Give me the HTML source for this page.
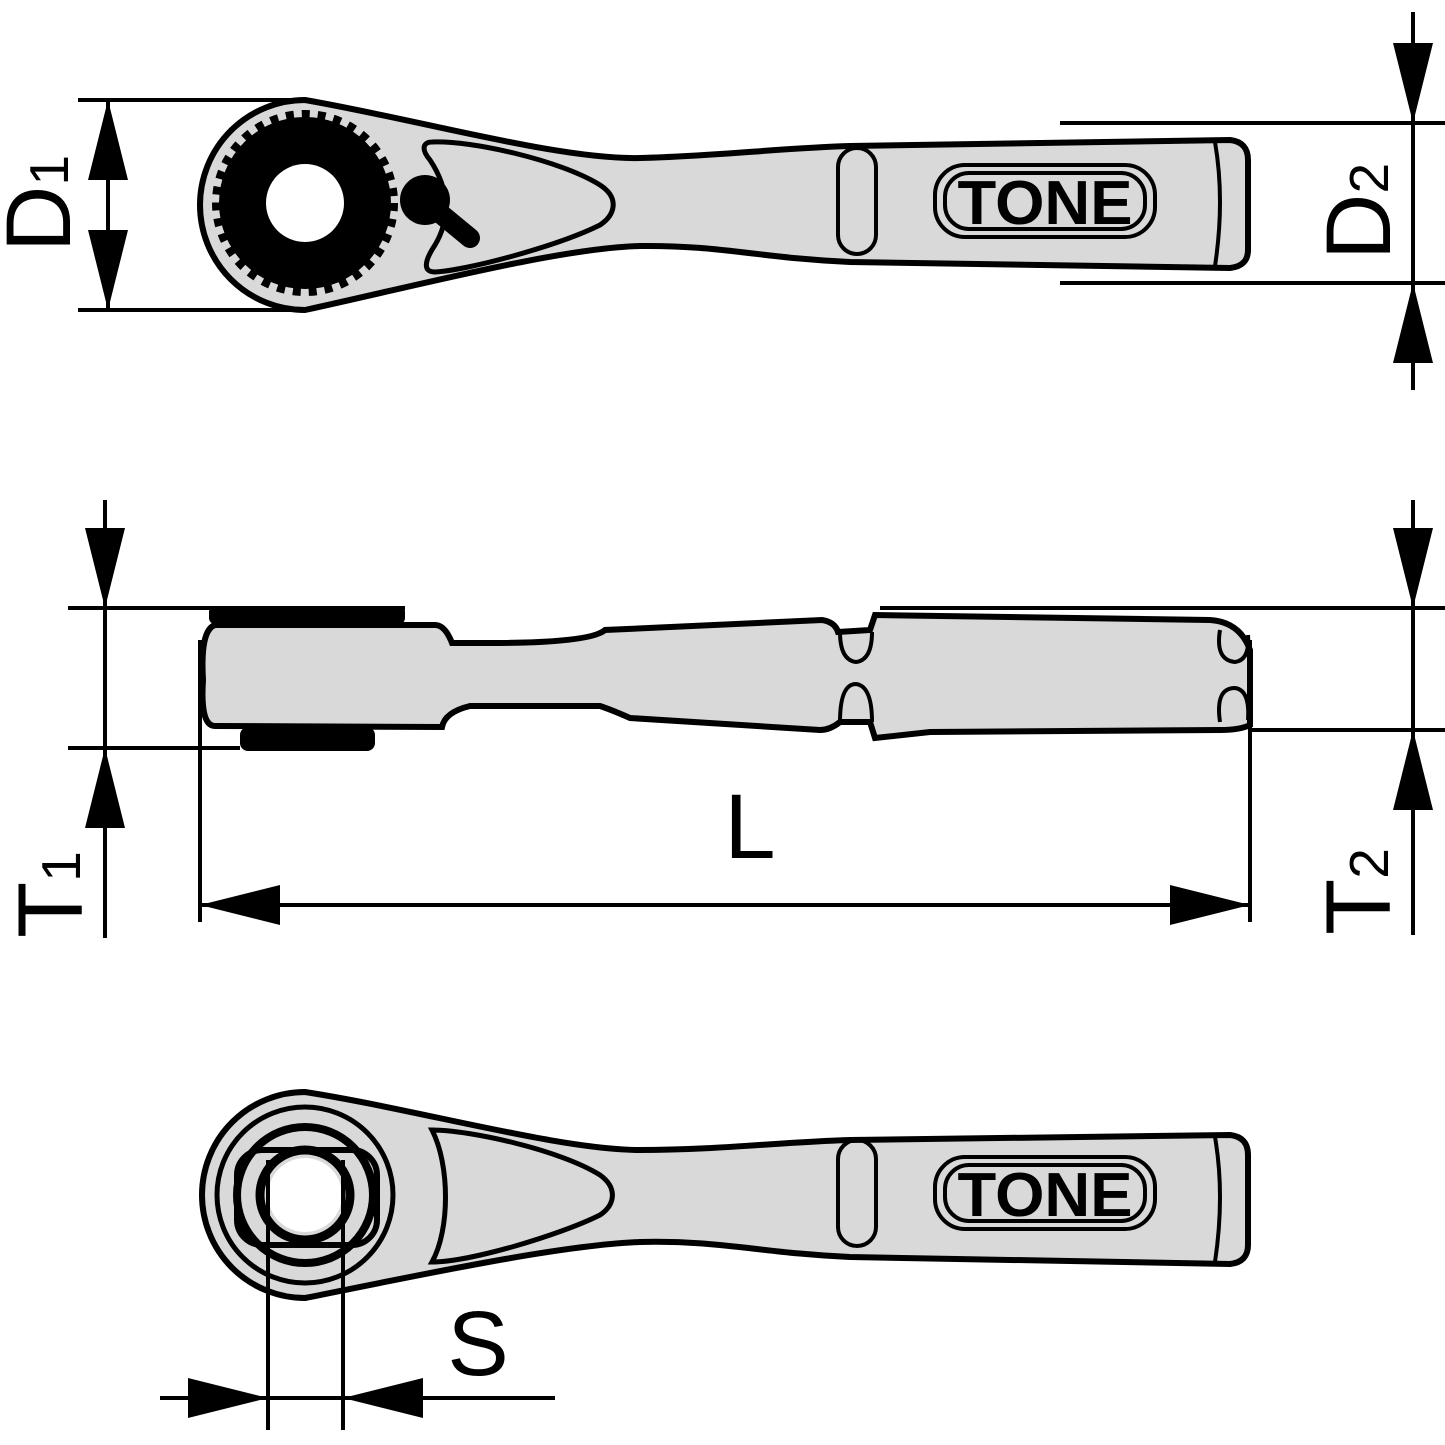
<!DOCTYPE html>
<html><head><meta charset="utf-8"><style>html,body{margin:0;padding:0;background:#fff}svg{display:block}</style></head>
<body>
<svg width="1445" height="1445" viewBox="0 0 1445 1445" xmlns="http://www.w3.org/2000/svg" font-family="Liberation Sans, sans-serif">
<defs>
<marker id="a" viewBox="0 0 20 10" refX="20" refY="5" markerWidth="80" markerHeight="40" markerUnits="userSpaceOnUse" orient="auto"><path d="M0,0L20,5L0,10Z" fill="#000"/></marker>
</defs>
<g stroke="#000" fill="none" stroke-width="4">
<!-- ===== TOP VIEW ===== -->
<path d="M305,100 C420,120 560,160 640,158 C720,156 780,148 850,146 L1230,140 Q1248,142 1248,160 L1248,250 Q1248,266 1230,268 L850,262 C760,258 720,245 640,246 C560,248 420,285 305,310 A105,105 0 0 1 305,100 Z" fill="#d9d9d9" stroke-width="6"/>
<circle cx="305" cy="203" r="86" fill="#000" stroke="none"/>
<circle cx="305" cy="203" r="89" stroke="#000" stroke-width="8" stroke-dasharray="8 8"/>
<circle cx="305" cy="203" r="39" fill="#fff" stroke="none"/>
<path d="M432,142 C470,140 560,160 600,185 C620,198 615,215 600,225 C560,245 470,270 435,272 C422,272 425,260 435,245 C450,220 450,190 430,160 C420,148 424,142 432,142 Z" fill="#d9d9d9" stroke-width="5"/>
<circle cx="425" cy="200" r="25" fill="#000" stroke="none"/>
<line x1="430" y1="205" x2="470" y2="238" stroke-width="20" stroke-linecap="round"/>
<rect x="838" y="148" width="38" height="106" rx="19" stroke-width="4"/>
<rect x="935" y="165" width="220" height="72" rx="30" stroke-width="4"/>
<rect x="945" y="173" width="200" height="56" rx="24" stroke-width="4"/>
<path d="M1215,142 Q1225,200 1215,266" stroke-width="4"/>
<!-- D1 -->
<line x1="78" y1="100" x2="305" y2="100"/>
<line x1="78" y1="310" x2="305" y2="310"/>
<line x1="108" y1="200" x2="108" y2="100" marker-end="url(#a)"/>
<line x1="108" y1="200" x2="108" y2="310" marker-end="url(#a)"/>
<!-- D2 -->
<line x1="1060" y1="123" x2="1445" y2="123"/>
<line x1="1060" y1="283" x2="1445" y2="283"/>
<line x1="1413" y1="12" x2="1413" y2="123" marker-end="url(#a)"/>
<line x1="1413" y1="390" x2="1413" y2="283" marker-end="url(#a)"/>
<line x1="1413" y1="123" x2="1413" y2="283"/>
<!-- ===== SIDE VIEW ===== -->
<rect x="209" y="606" width="196" height="18" rx="6" fill="#000" stroke="none"/>
<rect x="240" y="727" width="135" height="24" rx="8" fill="#000" stroke="none"/>
<path d="M215,625 L435,625 Q445,625 452,643 L490,643 Q590,643 605,630 L822,620 Q835,622 838,632 L870,630 L875,615 L1210,620 Q1240,622 1250,650 L1250,725 Q1240,730 1220,730 L930,732 L875,738 L870,722 L840,722 Q830,730 820,730 L630,718 Q612,710 600,706 L470,706 Q445,712 442,727 L215,726 Q200,726 203,680 Q200,630 215,625 Z" fill="#d9d9d9" stroke-width="6"/>
<path d="M840,632 Q840,660 856,662 Q872,660 872,632" stroke-width="4"/>
<path d="M840,722 Q840,684 856,684 Q872,686 872,722" stroke-width="4"/>
<path d="M1220,630 Q1215,660 1235,662 Q1250,660 1248,635" stroke-width="4"/>
<path d="M1220,722 Q1215,688 1235,688 Q1250,690 1248,720" stroke-width="4"/>
<!-- T1 -->
<line x1="68" y1="608" x2="405" y2="608"/>
<line x1="68" y1="748" x2="240" y2="748"/>
<line x1="105" y1="500" x2="105" y2="608" marker-end="url(#a)"/>
<line x1="105" y1="938" x2="105" y2="748" marker-end="url(#a)"/>
<line x1="105" y1="608" x2="105" y2="748"/>
<!-- T2 -->
<line x1="880" y1="608" x2="1445" y2="608"/>
<line x1="1250" y1="730" x2="1445" y2="730"/>
<line x1="1413" y1="500" x2="1413" y2="608" marker-end="url(#a)"/>
<line x1="1413" y1="935" x2="1413" y2="730" marker-end="url(#a)"/>
<line x1="1413" y1="608" x2="1413" y2="730"/>
<!-- L -->
<line x1="200" y1="640" x2="200" y2="922"/>
<line x1="1250" y1="640" x2="1250" y2="922"/>
<line x1="725" y1="905" x2="200" y2="905" marker-end="url(#a)"/>
<line x1="725" y1="905" x2="1250" y2="905" marker-end="url(#a)"/>
<!-- ===== BOTTOM VIEW ===== -->
<path d="M305,1092 C420,1110 560,1150 640,1150 C720,1150 780,1142 850,1140 L1230,1135 Q1248,1137 1248,1155 L1248,1245 Q1248,1262 1230,1264 L850,1257 C760,1253 720,1240 640,1242 C560,1245 420,1275 305,1298 A103,103 0 0 1 305,1092 Z" fill="#d9d9d9" stroke-width="6"/>
<circle cx="305" cy="1195" r="88" stroke-width="5"/>
<circle cx="305" cy="1195" r="68" stroke-width="8"/>
<rect x="237" y="1150" width="140" height="95" rx="25" stroke-width="6"/>
<circle cx="305" cy="1195" r="45" stroke-width="9"/>
<circle cx="305" cy="1195" r="37" fill="#fff" stroke="none"/>
<path d="M432,1130 C470,1130 560,1150 600,1175 C618,1188 615,1205 600,1215 C560,1235 470,1262 432,1262 C450,1230 450,1165 432,1130 Z" fill="#d9d9d9" stroke-width="5"/>
<rect x="838" y="1140" width="38" height="106" rx="19"/>
<rect x="935" y="1157" width="220" height="72" rx="30"/>
<rect x="945" y="1165" width="200" height="56" rx="24"/>
<path d="M1215,1137 Q1225,1195 1215,1262"/>
<!-- S -->
<line x1="268" y1="1160" x2="268" y2="1430"/>
<line x1="343" y1="1160" x2="343" y2="1430"/>
<line x1="160" y1="1398" x2="268" y2="1398" marker-end="url(#a)"/>
<line x1="555" y1="1398" x2="343" y2="1398" marker-end="url(#a)"/>
<line x1="268" y1="1398" x2="343" y2="1398"/>
</g>
<g font-weight="bold" font-size="62" text-anchor="middle" fill="#000">
<text x="1045" y="224" textLength="175" lengthAdjust="spacingAndGlyphs">TONE</text>
<text x="1045" y="1216" textLength="175" lengthAdjust="spacingAndGlyphs">TONE</text>
</g>
<g font-size="92" fill="#000">
<text x="750" y="858" text-anchor="middle">L</text>
<text x="478" y="1375" text-anchor="middle">S</text>
<text transform="translate(70,252) rotate(-90)">D<tspan font-size="55" dy="-2">1</tspan></text>
<text transform="translate(1390,260) rotate(-90)">D<tspan font-size="55" dy="-2">2</tspan></text>
<text transform="translate(82,938) rotate(-90)">T<tspan font-size="55" dy="-2">1</tspan></text>
<text transform="translate(1390,935) rotate(-90)">T<tspan font-size="55" dy="-2">2</tspan></text>
</g>
</svg>
</body></html>
